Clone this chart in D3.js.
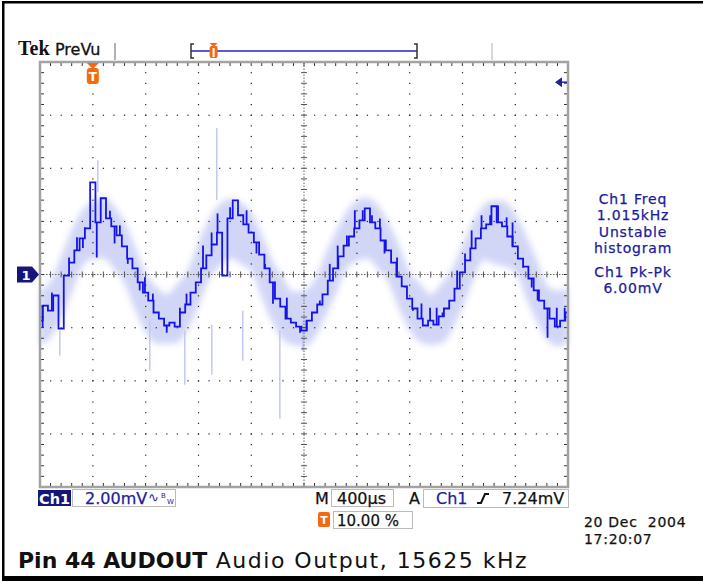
<!DOCTYPE html>
<html>
<head>
<meta charset="utf-8">
<script src="https://cdn.jsdelivr.net/npm/d3@7"></script>
<style>
  body { margin: 0; background: #fff; }
  svg { display: block; font-family: "DejaVu Sans", sans-serif; }
</style>
</head>
<body>
<svg id="chart" width="703" height="581"></svg>
<script>
// Values (time in us, voltage in mV)
var sampleStepUs = 40;
var traceMv = [
  -1.74, -1.17, -1.36, -0.79, -2.04, -0.04, 0.45, 0.91, 1.36, 1.74,
  3.47, 1.96, 2.87, 2.11, 1.81, 1.47, 1.06, 0.60, 0.23, -0.30,
  -0.68, -0.98, -1.43, -1.66, -1.92, -1.81, -1.96, -1.43, -1.13, -0.68,
  -0.30, 0.23, 0.72, 1.13, 1.58, -0.04, 2.11, 2.79, 2.23, 1.89,
  1.58, 1.21, 0.75, 0.23, -0.30, -0.91, -1.21, -1.66, -1.81, -1.96,
  -2.11, -1.74, -1.43, -1.13, -0.75, -0.23, 0.23, 0.68, 1.09, 1.43,
  1.74, 2.04, 2.49, 1.96, 1.74, 1.28, 0.91, 0.45, -0.08, -0.45,
  -0.91, -1.28, -1.66, -1.92, -1.74, -1.89, -1.58, -1.28, -0.98, -0.53,
  0.08, 0.53, 0.98, 1.36, 1.74, 1.89, 2.57, 1.96, 1.81, 1.43,
  1.06, 0.60, 0.30, -0.15, -0.60, -0.98, -1.28, -1.66, -1.96, -1.74,
  -1.43
];

// short spikes on the live trace: [time us, spike tip mV]
var traceSpikes = [
  [-380, -2.0], [-310, -0.68], [-180, 0.64], [-120, 1.4], [-75, 1.0], [-60, 1.77],
  [30, 0.64], [130, 2.4], [165, 1.17], [205, 1.85], [265, 0.4], [355, -0.6],
  [395, -0.1], [455, -0.72], [560, -2.19], [660, -1.25], [710, -0.72], [835, 1.09],
  [900, 1.58], [945, 2.3], [1040, 2.53], [1165, 2.42], [1240, 0.79], [1305, 0.4],
  [1365, -1.1], [1470, -0.87], [1570, -2.19], [1620, -2.11], [1665, -1.43], [1720, -0.98],
  [1795, 0.4], [1855, 1.09], [1925, 1.47], [1985, 2.42], [2045, 2.42], [2115, 2.23],
  [2175, 2.11], [2210, 0.79], [2305, 0.64], [2365, -0.49], [2425, -1.36], [2490, -1.09],
  [2555, -1.25], [2605, -1.25], [2650, -1.43], [2760, 0.15], [2820, 0.79], [2870, 1.66],
  [2945, 2.23], [3010, 2.23], [3070, 2.6], [3135, 2.15], [3180, 1.96], [3260, 0.26],
  [3325, -0.49], [3370, -0.98], [3445, -2.38], [3515, -1.25], [3575, -1.25]
];

// persistence cloud (light blue) envelope
var cloudStepUs = 80;
var cloudUpperMv = [
  -0.6, -0.26, 0.69, 1.67, 2.41, 2.76, 2.95, 2.59, 1.98, 1.06,
  0.06, -0.45, -0.75, -0.35, 0.19, 1.2, 2.08, 2.64, 2.85, 2.73,
  2.33, 1.52, 0.55, -0.1, -0.65, -0.6, -0.2, 0.75, 1.6, 2.35,
  2.8, 2.9, 2.6, 1.95, 1.1, 0.1, -0.35, -0.75, -0.35, 0.2,
  1.1, 2.0, 2.6, 2.8, 2.75, 2.3, 1.5, 0.6, -0.4, -0.6,
  -0.5
];
var cloudLowerMv = [
  -2.66, -2.38, -1.67, -0.71, 0.27, 0.6, 0.6, 0.2, -0.34, -1.34,
  -2.16, -2.61, -2.62, -2.58, -2.07, -1.2, -0.2, 0.3, 0.6, 0.4,
  0.13, -0.88, -1.79, -2.46, -2.66, -2.7, -2.4, -1.6, -0.75, 0.2,
  0.5, 0.6, 0.2, -0.3, -1.3, -2.1, -2.55, -2.65, -2.6, -2.1,
  -1.25, -0.25, 0.55, 0.4, 0.3, 0.1, -0.85, -1.75, -2.45, -2.7,
  -2.6
];

// faint glitches in the persistence: [time us, top mV, bottom mV]
var glitches = [
  [-250, -2.11, -3.06], [38, 4.3, 3.1], [432, -1.74, -3.62],
  [697, -2.11, -4.15], [902, -1.89, -3.77], [939, 5.51, 2.8],
  [1136, -1.36, -3.25], [1417, -2.11, -5.43], [1591, -1.74, -2.87]
];

var measureLines = ["Ch1 Freq", "1.015kHz", "Unstable", "histogram"];
var pkpkLines = ["Ch1 Pk-Pk", "6.00mV"];
var triggerLevelMv = 7.24;
var triggerPosPct = 10;

var svg = d3.select("#chart");
svg.append("rect").attr("width", 703).attr("height", 581).attr("fill", "#fff");

var defs = svg.append("defs");
defs.append("filter").attr("id", "haze").attr("x", "-5%").attr("y", "-20%").attr("width", "110%").attr("height", "140%")
  .append("feGaussianBlur").attr("stdDeviation", 3);

// screen: 10 x 400us across, 8 x 2mV down
var x = d3.scaleLinear().domain([-400, 3600]).range([40, 568]);
var y = d3.scaleLinear().domain([-8, 8]).range([487, 62]);

var xMajor = d3.range(-400, 3601, 400);
var yMajor = d3.range(-8, 8.01, 2);
var xMinor = d3.range(0, 51).map(function(k) { return -400 + k * 80; });
var yMinor = d3.range(0, 41).map(function(k) { return -8 + k * 0.4; });

// persistence cloud
var cloud = d3.area()
  .x(function(d, i) { return x(-400 + i * cloudStepUs); })
  .y0(function(d, i) { return y(cloudLowerMv[i]); })
  .y1(function(d) { return y(d); })
  .curve(d3.curveMonotoneX);
svg.append("path").datum(cloudUpperMv).attr("d", cloud)
  .attr("fill", "#c6ccf5").attr("fill-opacity", 0.8).attr("filter", "url(#haze)");

svg.selectAll(".glitch").data(glitches).enter().append("line")
  .attr("class", "glitch")
  .attr("x1", function(d) { return x(d[0]); }).attr("x2", function(d) { return x(d[0]); })
  .attr("y1", function(d) { return y(d[1]); }).attr("y2", function(d) { return y(d[2]); })
  .attr("stroke", "#c3c8f3").attr("stroke-width", 1.5);

var grid = svg.append("g");

// dotted grid lines (dot each fifth of a division)
xMajor.slice(1, -1).forEach(function(t) {
  if (t === 1600) return;
  grid.selectAll(null).data(yMinor.slice(1, -1)).enter().append("rect")
    .attr("x", x(t) - 0.5).attr("y", function(v) { return y(v) - 0.5; })
    .attr("width", 1.2).attr("height", 1.2).attr("fill", "#222");
});
yMajor.slice(1, -1).forEach(function(v) {
  if (v === 0) return;
  grid.selectAll(null).data(xMinor.slice(1, -1)).enter().append("rect")
    .attr("x", function(t) { return x(t) - 0.5; }).attr("y", y(v) - 0.5)
    .attr("width", 1.2).attr("height", 1.2).attr("fill", "#222");
});

// centre lines with minor ticks
grid.append("line").attr("x1", x(-400)).attr("x2", x(3600))
  .attr("y1", y(0)).attr("y2", y(0))
  .attr("stroke", "#666").attr("stroke-dasharray", "1.5,1.5");
grid.append("line").attr("x1", x(1600)).attr("x2", x(1600))
  .attr("y1", y(-8)).attr("y2", y(8))
  .attr("stroke", "#666").attr("stroke-dasharray", "1.5,1.5");
grid.selectAll(null).data(xMinor).enter().append("line")
  .attr("x1", function(t) { return x(t); }).attr("x2", function(t) { return x(t); })
  .attr("y1", y(0) - 3).attr("y2", y(0) + 3).attr("stroke", "#555");
grid.selectAll(null).data(yMinor).enter().append("line")
  .attr("y1", function(v) { return y(v); }).attr("y2", function(v) { return y(v); })
  .attr("x1", x(1600) - 3).attr("x2", x(1600) + 3).attr("stroke", "#555");

// edge ticks
grid.selectAll(null).data(xMinor).enter().append("line")
  .attr("x1", function(t) { return x(t); }).attr("x2", function(t) { return x(t); })
  .attr("y1", y(8)).attr("y2", y(8) + 4).attr("stroke", "#333");
grid.selectAll(null).data(xMinor).enter().append("line")
  .attr("x1", function(t) { return x(t); }).attr("x2", function(t) { return x(t); })
  .attr("y1", y(-8)).attr("y2", y(-8) - 4).attr("stroke", "#333");
grid.selectAll(null).data(yMinor).enter().append("line")
  .attr("y1", function(v) { return y(v); }).attr("y2", function(v) { return y(v); })
  .attr("x1", x(-400)).attr("x2", x(-400) + 4).attr("stroke", "#333");
grid.selectAll(null).data(yMinor).enter().append("line")
  .attr("y1", function(v) { return y(v); }).attr("y2", function(v) { return y(v); })
  .attr("x1", x(3600)).attr("x2", x(3600) - 4).attr("stroke", "#333");

// live trace
var blue = "#1414e6";
var trace = d3.line()
  .x(function(d, i) { return x(-400 + i * sampleStepUs); })
  .y(function(d) { return y(d); })
  .curve(d3.curveStep);
svg.append("path").datum(traceMv).attr("d", trace)
  .attr("fill", "none").attr("stroke", blue).attr("stroke-width", 1.8);
svg.selectAll(".spike").data(traceSpikes).enter().append("line")
  .attr("class", "spike")
  .attr("x1", function(d) { return x(d[0]); }).attr("x2", function(d) { return x(d[0]); })
  .attr("y1", function(d) { return y(traceMv[Math.round((d[0] + 400) / sampleStepUs)]); })
  .attr("y2", function(d) { return y(d[1]); })
  .attr("stroke", blue).attr("stroke-width", 1.8);

// graticule border
svg.append("rect").attr("x", x(-400)).attr("y", y(8))
  .attr("width", x(3600) - x(-400)).attr("height", y(-8) - y(8))
  .attr("fill", "none").attr("stroke", "#a3a3a3").attr("stroke-width", 2.5);

// trigger position marker
var orange = "#f26b12";
var tx = x(0);
svg.append("path")
  .attr("d", "M" + (tx - 6) + "," + (y(8) + 1) + "L" + (tx + 6) + "," + (y(8) + 1) + "L" + tx + "," + (y(8) + 7) + "Z")
  .attr("fill", orange);
svg.append("rect").attr("x", tx - 6).attr("y", y(8) + 6).attr("width", 12).attr("height", 16)
  .attr("rx", 3).attr("fill", orange);
svg.append("text").attr("x", tx).attr("y", y(8) + 19).attr("text-anchor", "middle")
  .attr("fill", "#fff").attr("font-size", 12).attr("font-weight", "bold").text("T");

// trigger level arrow on right edge
var ty = y(triggerLevelMv);
svg.append("path")
  .attr("d", "M555," + ty + "L562," + (ty - 5) + "L562," + (ty + 5) + "Z")
  .attr("fill", "#22229a");
svg.append("line").attr("x1", 562).attr("x2", 567).attr("y1", ty).attr("y2", ty)
  .attr("stroke", "#22229a").attr("stroke-width", 1.5);

// channel 1 ground marker
var gy = y(0);
svg.append("path")
  .attr("d", "M17," + (gy - 8) + "L32," + (gy - 8) + "L39," + gy + "L32," + (gy + 8) + "L17," + (gy + 8) + "Z")
  .attr("fill", "#16167a");
svg.append("text").attr("x", 26).attr("y", gy + 5).attr("text-anchor", "middle")
  .attr("fill", "#fff").attr("font-size", 13).attr("font-weight", "bold").text("1");

// top header
svg.append("text").attr("x", 18).attr("y", 55).attr("font-family", "Liberation Serif")
  .attr("font-weight", "bold").attr("font-size", 20).attr("fill", "#111").text("Tek");
svg.append("text").attr("x", 55).attr("y", 55).attr("font-size", 16).attr("fill", "#111")
  .attr("stroke", "#111").attr("stroke-width", 0.3).text("PreVu");
svg.append("line").attr("x1", 115).attr("x2", 115).attr("y1", 43).attr("y2", 60)
  .attr("stroke", "#999").attr("stroke-width", 1.5);

var b0 = 191, b1 = 417, by = 51;
svg.append("line").attr("x1", b0).attr("x2", b1).attr("y1", by).attr("y2", by)
  .attr("stroke", "#5b5bcf").attr("stroke-width", 2);
svg.append("path").attr("d", "M" + (b0 + 3) + ",44H" + b0 + "V58H" + (b0 + 3))
  .attr("fill", "none").attr("stroke", "#333").attr("stroke-width", 1.5);
svg.append("path").attr("d", "M" + (b1 - 3) + ",44H" + b1 + "V58H" + (b1 - 3))
  .attr("fill", "none").attr("stroke", "#333").attr("stroke-width", 1.5);
var bt = b0 + (b1 - b0) * triggerPosPct / 100;
svg.append("path").attr("d", "M" + (bt - 4) + ",43L" + (bt + 4) + ",43L" + bt + ",47Z").attr("fill", orange);
svg.append("rect").attr("x", bt - 4).attr("y", 46).attr("width", 8).attr("height", 12)
  .attr("rx", 2).attr("fill", orange);
svg.append("rect").attr("x", bt - 1).attr("y", 48).attr("width", 2).attr("height", 9).attr("fill", "#fff");
svg.append("line").attr("x1", 492).attr("x2", 492).attr("y1", 43).attr("y2", 60)
  .attr("stroke", "#ccc").attr("stroke-width", 1.5);

// readout text helper
function label(px, py, txt, color, size) {
  return svg.append("text").attr("x", px).attr("y", py)
    .attr("font-size", size || 16).attr("fill", color)
    .attr("stroke", color).attr("stroke-width", 0.25).text(txt);
}

// measurement readouts
var navy = "#1c1c9c";
measureLines.forEach(function(d, i) {
  label(633, 204 + i * 16.4, d, navy, 14).attr("text-anchor", "middle").attr("letter-spacing", 0.8);
});
pkpkLines.forEach(function(d, i) {
  label(633, 277 + i * 16.4, d, navy, 14).attr("text-anchor", "middle").attr("letter-spacing", 0.8);
});

// bottom readouts
svg.append("rect").attr("x", 38).attr("y", 490).attr("width", 33).attr("height", 16).attr("fill", "#16167a");
svg.append("text").attr("x", 39).attr("y", 503.5).attr("font-size", 14.5).attr("font-weight", "bold")
  .attr("fill", "#fff").text("Ch1");
svg.append("rect").attr("x", 72.5).attr("y", 489.5).attr("width", 103).attr("height", 17)
  .attr("fill", "none").attr("stroke", "#bbb");
label(85, 503.5, "2.00mV", navy);
svg.append("text").attr("x", 148).attr("y", 502).attr("font-size", 13).attr("fill", navy).text("\u223F");
svg.append("text").attr("x", 161).attr("y", 498).attr("font-size", 7).attr("fill", navy).text("B");
svg.append("text").attr("x", 167).attr("y", 504).attr("font-size", 7).attr("fill", navy).text("W");

label(315, 503.5, "M", "#111");
svg.append("rect").attr("x", 331.5).attr("y", 489.5).attr("width", 62).attr("height", 17)
  .attr("fill", "none").attr("stroke", "#bbb");
label(337, 503.5, "400\u00B5s", "#111");
label(409, 503.5, "A", "#111");
svg.append("rect").attr("x", 423.5).attr("y", 489.5).attr("width", 145).attr("height", 18)
  .attr("fill", "none").attr("stroke", "#bbb");
label(436, 503.5, "Ch1", navy);
svg.append("path").attr("d", "M477,503H481L485,494H489")
  .attr("fill", "none").attr("stroke", "#111").attr("stroke-width", 2);
label(502, 503.5, "7.24mV", "#111");

svg.append("rect").attr("x", 318).attr("y", 512).attr("width", 12).attr("height", 15).attr("rx", 2).attr("fill", orange);
svg.append("text").attr("x", 324).attr("y", 524).attr("text-anchor", "middle").attr("font-size", 11)
  .attr("font-weight", "bold").attr("fill", "#fff").text("T");
svg.append("rect").attr("x", 333.5).attr("y", 511.5).attr("width", 79).attr("height", 17)
  .attr("fill", "none").attr("stroke", "#bbb");
label(337, 525.5, "10.00 %", "#111", 15);

label(584, 526.5, "20 Dec\u00A0\u00A02004", "#111", 14).attr("letter-spacing", 0.7);
label(584, 543.5, "17:20:07", "#111", 14).attr("letter-spacing", 0.7);

// caption
var cap = svg.append("text").attr("x", 18).attr("y", 568).attr("font-size", 22).attr("fill", "#111");
cap.append("tspan").attr("font-weight", "bold").text("Pin 44 AUDOUT");
cap.append("tspan").attr("letter-spacing", 1.5).text(" Audio Output, 15625 kHz");

// outer frame
svg.append("rect").attr("x", 2).attr("y", 1).attr("width", 703).attr("height", 2.5).attr("fill", "#000");
svg.append("rect").attr("x", 2).attr("y", 1).attr("width", 2.5).attr("height", 580).attr("fill", "#000");
svg.append("rect").attr("x", 2).attr("y", 576).attr("width", 703).attr("height", 5).attr("fill", "#000");
</script>
</body>
</html>
